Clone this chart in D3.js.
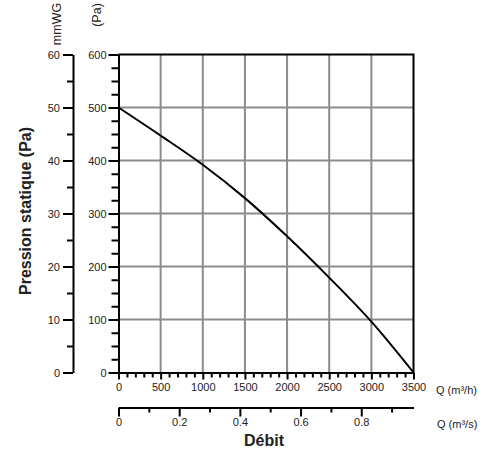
<!DOCTYPE html>
<html>
<head>
<meta charset="utf-8">
<script src="https://cdn.jsdelivr.net/npm/d3@7"></script>
<style>
  body { margin: 0; background: #fff; }
  text { font-family: "Liberation Sans", Arial, sans-serif; fill: #222; }
</style>
</head>
<body>
<div id="chart"></div>
<script>
  // curve values
  let flow = [0, 500, 1000, 1500, 2000, 2500, 3000, 3500];
  let pressure = [500, 447, 392, 329, 257, 179, 96, 0];

  let paTicks = [0, 100, 200, 300, 400, 500, 600];
  let mmTicks = [0, 10, 20, 30, 40, 50, 60];
  let flowTicks = [0, 500, 1000, 1500, 2000, 2500, 3000, 3500];
  let secTicks = [0, 0.2, 0.4, 0.6, 0.8];

  let width = 493;
  let height = 463;

  let x = d3.scaleLinear().domain([0, 3500]).range([118.5, 413.5]);
  let xs = d3.scaleLinear().domain([0, 3500 / 3600]).range([118.5, 413.5]);
  let y = d3.scaleLinear().domain([0, 600]).range([372.5, 54.5]);
  let ymm = d3.scaleLinear().domain([0, 60]).range([372.5, 54.5]);

  let svg = d3
    .select('#chart')
    .append('svg')
    .attr('width', width)
    .attr('height', height);

  // grid
  let grid = svg.append('g').attr('stroke', '#8c8c8c').attr('stroke-width', 2);
  grid
    .selectAll('.vg')
    .data(flowTicks.slice(1, -1))
    .enter()
    .append('line')
    .attr('x1', (d) => x(d))
    .attr('x2', (d) => x(d))
    .attr('y1', y(600))
    .attr('y2', y(0));
  grid
    .selectAll('.hg')
    .data(paTicks.slice(1, -1))
    .enter()
    .append('line')
    .attr('x1', x(0))
    .attr('x2', x(3500))
    .attr('y1', (d) => y(d))
    .attr('y2', (d) => y(d));

  // frame top + right
  svg
    .append('path')
    .attr('d', `M${x(0)},${y(600)}H${x(3500)}V${y(0)}`)
    .attr('fill', 'none')
    .attr('stroke', '#000')
    .attr('stroke-width', 2);

  function styleAxis(g) {
    g.selectAll('path, line').attr('stroke', '#000').attr('stroke-width', 2);
    g.selectAll('text')
      .style('font-family', '"Liberation Sans", Arial, sans-serif')
      .style('font-size', '11px')
      .attr('fill', '#222');
  }

  // Pa axis
  let paMinor = d3.range(0, 601, 25).filter((d) => d % 100 !== 0);
  svg
    .append('g')
    .attr('transform', `translate(${x(0)},0)`)
    .call(d3.axisLeft(y).tickValues(paMinor).tickSize(7).tickFormat(''))
    .call(styleAxis)
    .call((g) => g.select('.domain').remove());
  svg
    .append('g')
    .attr('transform', `translate(${x(0)},0)`)
    .call(d3.axisLeft(y).tickValues(paTicks).tickSize(10).tickSizeOuter(0).tickPadding(2))
    .call(styleAxis);

  // mmWG axis
  let mmMinor = [5, 15, 25, 35, 45, 55];
  svg
    .append('g')
    .attr('transform', 'translate(73,0)')
    .call(d3.axisLeft(ymm).tickValues(mmMinor).tickSize(6).tickFormat(''))
    .call(styleAxis)
    .call((g) => g.select('.domain').remove());
  svg
    .append('g')
    .attr('transform', 'translate(73,0)')
    .call(d3.axisLeft(ymm).tickValues(mmTicks).tickSize(10).tickSizeOuter(0).tickPadding(3))
    .call(styleAxis);

  // flow axis m3/h
  let flowMinor = d3.range(0, 3501, 100).filter((d) => d % 500 !== 0);
  svg
    .append('g')
    .attr('transform', `translate(0,${y(0)})`)
    .call(d3.axisBottom(x).tickValues(flowMinor).tickSize(5).tickFormat(''))
    .call(styleAxis)
    .call((g) => g.select('.domain').remove());
  svg
    .append('g')
    .attr('transform', `translate(0,${y(0)})`)
    .call(
      d3
        .axisBottom(x)
        .tickValues(flowTicks)
        .tickSize(7)
        .tickSizeOuter(0)
        .tickPadding(4)
        .tickFormat(d3.format('d'))
    )
    .call(styleAxis);

  // flow axis m3/s
  let secMinor = [0.1, 0.3, 0.5, 0.7, 0.9];
  svg
    .append('g')
    .attr('transform', 'translate(0,407.5)')
    .call(d3.axisBottom(xs).tickValues(secMinor).tickSize(5).tickFormat(''))
    .call(styleAxis)
    .call((g) => g.select('.domain').remove());
  svg
    .append('g')
    .attr('transform', 'translate(0,407.5)')
    .call(
      d3
        .axisBottom(xs)
        .tickValues(secTicks)
        .tickSize(9)
        .tickSizeOuter(0)
        .tickPadding(2)
        .tickFormat((d) => (d === 0 ? '0' : d3.format('.1f')(d)))
    )
    .call(styleAxis);

  // curve
  let line = d3
    .line()
    .x((d, i) => x(flow[i]))
    .y((d) => y(d))
    .curve(d3.curveCatmullRom);
  svg
    .append('path')
    .datum(pressure)
    .attr('d', line)
    .attr('fill', 'none')
    .attr('stroke', '#000')
    .attr('stroke-width', 2);

  // labels
  svg.append('text').attr('x', 436).attr('y', 394).style('font-size', '11px').text('Q (m³/h)');
  svg.append('text').attr('x', 437).attr('y', 428).style('font-size', '11px').text('Q (m³/s)');
  svg
    .append('text')
    .attr('x', 264)
    .attr('y', 446)
    .attr('text-anchor', 'middle')
    .style('font-size', '16px')
    .style('font-weight', 'bold')
    .text('Débit');
  svg
    .append('text')
    .attr('transform', 'translate(31,211) rotate(-90)')
    .attr('text-anchor', 'middle')
    .style('font-size', '16px')
    .style('font-weight', 'bold')
    .text('Pression statique (Pa)');
  svg
    .append('text')
    .attr('transform', 'translate(61,24) rotate(-90)')
    .attr('text-anchor', 'middle')
    .style('font-size', '12.5px')
    .text('mmWG');
  svg
    .append('text')
    .attr('transform', 'translate(101,15) rotate(-90)')
    .attr('text-anchor', 'middle')
    .style('font-size', '12.5px')
    .text('(Pa)');
</script>
</body>
</html>
